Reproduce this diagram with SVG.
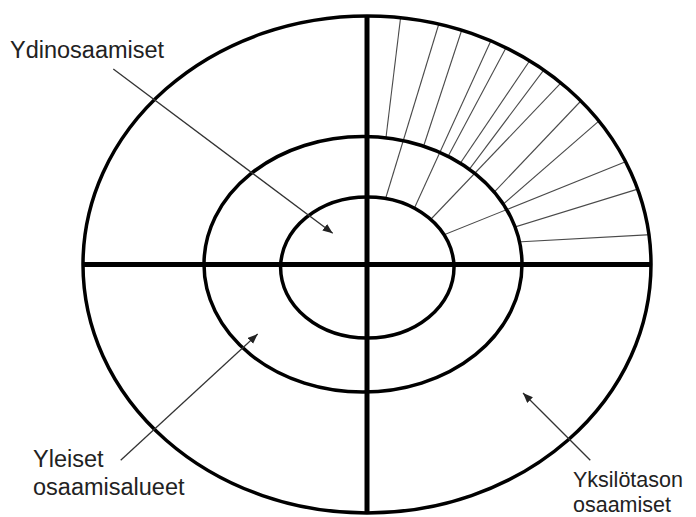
<svg xmlns="http://www.w3.org/2000/svg" width="696" height="517" viewBox="0 0 696 517">
<style>
.ring{fill:none;stroke:#000;stroke-width:3.5}
.axis{stroke:#000;stroke-width:5;fill:none}
.hatch{stroke:#4a4a4a;stroke-width:1.1;fill:none}
.conn{stroke:#333;stroke-width:1.3;fill:none}
.lbl{font-family:"Liberation Sans",Arial,sans-serif;font-size:23.5px;fill:#222}
.lbl-s{font-size:21.5px}
</style>
<defs>
<marker id="ah" markerUnits="userSpaceOnUse" markerWidth="11" markerHeight="9" refX="10" refY="4" orient="auto">
<path d="M0,0 L10,4 L0,8 z" fill="#222"/>
</marker>
<clipPath id="clipMid">
<path clip-rule="evenodd" d="M83,264.5 a284,248.5 0 1,0 568,0 a284,248.5 0 1,0 -568,0 z M204,264.3 a159,127.8 0 1,0 318,0 a159,127.8 0 1,0 -318,0 z"/>
</clipPath>
<clipPath id="clipInner">
<path clip-rule="evenodd" d="M83,264.5 a284,248.5 0 1,0 568,0 a284,248.5 0 1,0 -568,0 z M280.6,267.5 a86.7,70.5 0 1,0 173.4,0 a86.7,70.5 0 1,0 -173.4,0 z"/>
</clipPath>
</defs>
<rect width="696" height="517" fill="#fff"/>

<g id="hatching">
<g clip-path="url(#clipMid)">
<line class="hatch" x1="401.6" y1="9.2" x2="378.4" y2="200"/>
<line class="hatch" x1="463.4" y1="25" x2="405.9" y2="200"/>
<line class="hatch" x1="509.5" y1="41.3" x2="424.8" y2="200"/>
<line class="hatch" x1="535.4" y1="52.3" x2="421.9" y2="220"/>
<line class="hatch" x1="549.5" y1="62.3" x2="423.8" y2="230"/>
<line class="hatch" x1="587" y1="94.5" x2="448.8" y2="240"/>
<line class="hatch" x1="605.7" y1="115.1" x2="462.1" y2="240"/>
<line class="hatch" x1="645.8" y1="186.6" x2="450" y2="247.1"/>
<line class="hatch" x1="652.7" y1="234.5" x2="450" y2="245.8"/>
</g>
<g clip-path="url(#clipInner)">
<line class="hatch" x1="441.1" y1="16.5" x2="376" y2="230"/>
<line class="hatch" x1="494.2" y1="33.5" x2="399.8" y2="240"/>
<line class="hatch" x1="567.4" y1="76.2" x2="401.5" y2="250"/>
<line class="hatch" x1="634.2" y1="158.2" x2="400" y2="252.6"/>
</g>
</g>

<g id="ring-outer"><ellipse class="ring" cx="367" cy="264.5" rx="284" ry="248.5"/></g>
<g id="ring-middle"><ellipse class="ring" cx="363" cy="264.3" rx="159" ry="127.8"/></g>
<g id="ring-inner"><ellipse class="ring" cx="367.3" cy="267.5" rx="86.7" ry="70.5"/></g>

<g id="axes">
<line class="axis" x1="83" y1="264.5" x2="651" y2="264.5"/>
<line class="axis" x1="367" y1="16" x2="367" y2="513"/>
</g>

<g id="label-ydin"><text class="lbl" x="10" y="58">Ydinosaamiset</text></g>
<g id="label-yleiset">
<text class="lbl" x="33" y="466.5">Yleiset</text>
<text class="lbl" x="33" y="495">osaamisalueet</text>
</g>
<g id="label-yksilo">
<text class="lbl lbl-s" x="573" y="487">Yksilötason</text>
<text class="lbl lbl-s" x="573" y="512">osaamiset</text>
</g>

<g id="connectors">
<line class="conn" x1="113.3" y1="69" x2="332.7" y2="233.3" marker-end="url(#ah)"/>
<line class="conn" x1="120.7" y1="460.3" x2="257.7" y2="334" marker-end="url(#ah)"/>
<line class="conn" x1="590.3" y1="460.3" x2="523" y2="393" marker-end="url(#ah)"/>
</g>
</svg>
